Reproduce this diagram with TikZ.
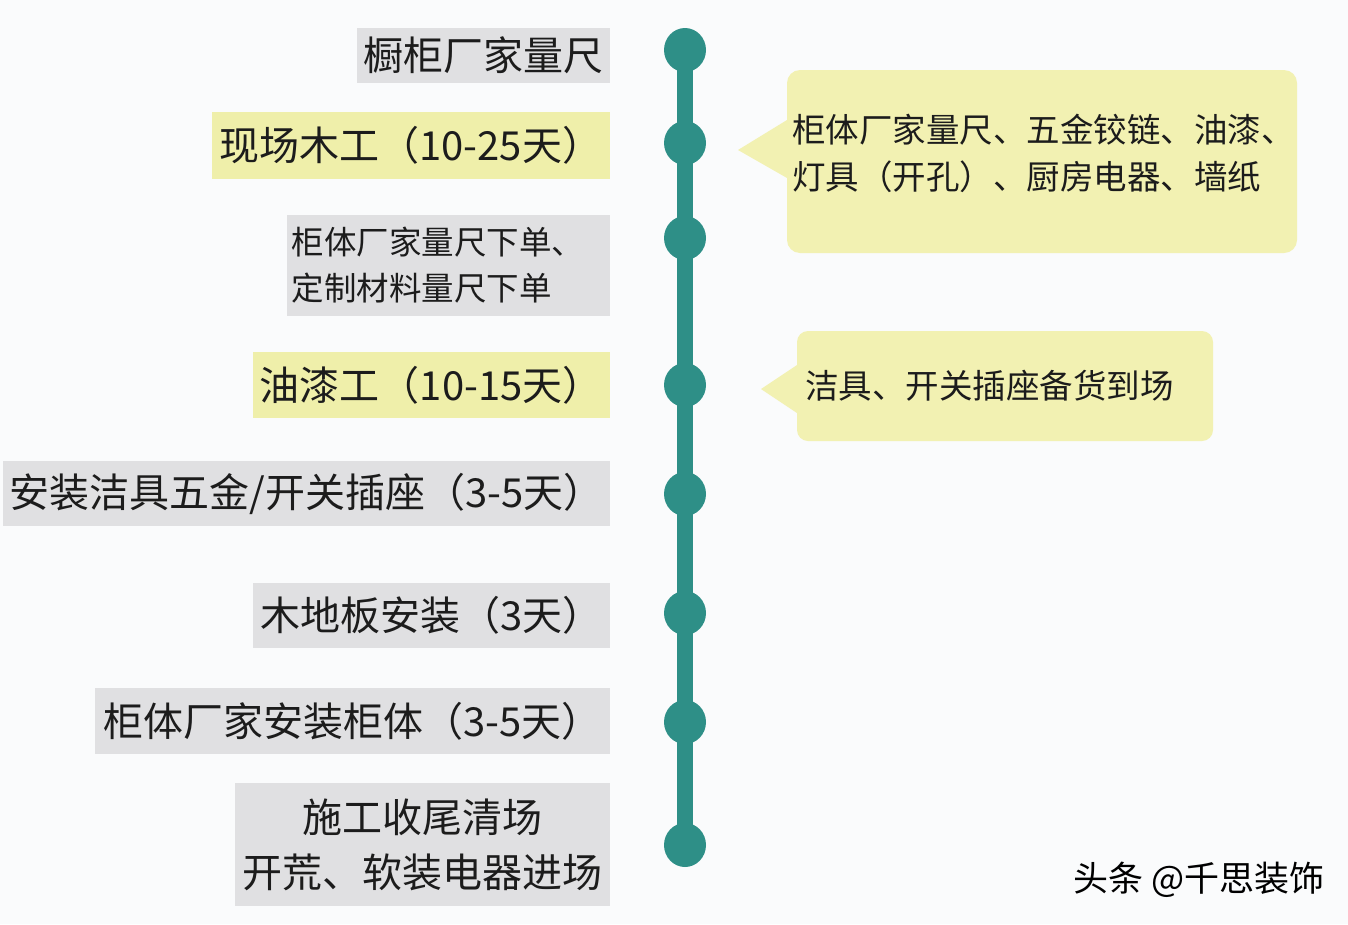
\documentclass[tikz,border=0pt]{standalone}
\usepackage{fontspec}
\setmainfont{Noto Sans CJK SC}
\usetikzlibrary{positioning,shapes.geometric}

\definecolor{pagebg}{HTML}{FAFBFC}
\definecolor{tealline}{HTML}{2E8F87}
\definecolor{boxgrey}{HTML}{E0E0E2}
\definecolor{boxyellow}{HTML}{EFEFAA}
\definecolor{bubbleyellow}{HTML}{F2F1B2}
\definecolor{inkblack}{HTML}{1C1C1C}

\begin{document}
\begin{tikzpicture}[x=1pt, y=-1pt,
    box/.style={inner sep=0pt, anchor=east, text=inkblack, font={\fontsize{40}{55}\selectfont}},
    greybox/.style={box, fill=boxgrey},
    yellowbox/.style={box, fill=boxyellow},
    dot/.style={ellipse, fill=tealline, minimum width=42pt, minimum height=44pt, inner sep=0pt},
    stem/.style={draw=tealline, line width=16pt},
    bubble/.style={fill=bubbleyellow},
    note/.style={anchor=west, align=left, text=inkblack, inner sep=0pt, font={\fontsize{33.5}{47}\selectfont}}]
        \fill[pagebg] (0,0) rectangle (1348,924);

        % steps on the left
        \node[greybox, minimum width=253pt, minimum height=55pt] (measure) at (610,55.5) {橱柜厂家量尺};
        \node[yellowbox, minimum width=398pt, minimum height=67pt] (carpentry) at (610,145.5) {现场木工（10-25天）};
        \node[greybox, minimum height=101pt, text width=313pt, inner xsep=5pt, align=left,
              font={\fontsize{32.5}{46}\selectfont}] (order) at (610,265.5) {柜体厂家量尺下单、\\定制材料量尺下单};
        \node[yellowbox, minimum width=357pt, minimum height=66pt] (painting) at (610,385) {油漆工（10-15天）};
        \node[greybox, minimum width=607pt, minimum height=65pt] (fittings) at (610,493.5) {安装洁具五金/开关插座（3-5天）};
        \node[greybox, minimum width=357pt, minimum height=65pt] (floor) at (610,615.5) {木地板安装（3天）};
        \node[greybox, minimum width=515pt, minimum height=66pt] (cabinet) at (610,721) {柜体厂家安装柜体（3-5天）};
        \node[greybox, minimum width=375pt, minimum height=123pt, align=center] (finish) at (610,844.5) {施工收尾清场\\开荒、软装电器进场};

        % timeline
        \foreach \y [count=\i] in {50,143,238,385,494,613,722,845}
            \node[dot] (d\i) at (685,\y) {};
        \draw[stem] (d1.center) -- (d8.center);

        % notes on the right
        \fill[bubble, rounded corners=13pt] (787,70) rectangle (1297,253);
        \fill[bubble] (787,120) -- (738,150) -- (787,178) -- cycle;
        \node[note] (notea) at (792,153.5) {柜体厂家量尺、五金铰链、油漆、\\灯具（开孔）、厨房电器、墙纸};

        \fill[bubble, rounded corners=11pt] (797,331) rectangle (1213,441);
        \fill[bubble] (797,365) -- (761,389) -- (797,413) -- cycle;
        \node[note] (noteb) at (805,386) {洁具、开关插座备货到场};

        \node[anchor=west, text=black, inner sep=0pt, font={\fontsize{35}{40}\selectfont}] (mark) at (1073,880) {头条 @千思装饰};
    \end{tikzpicture}
\end{document}
